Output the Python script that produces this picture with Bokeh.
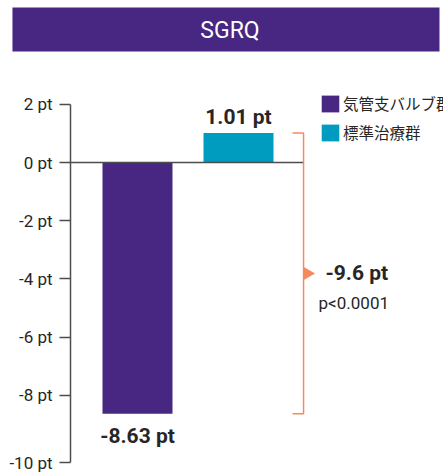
import math
from bokeh.plotting import figure
from bokeh.models import (Range1d, FixedTicker, ColumnDataSource, Legend, LegendItem)
from bokeh.core.properties import value
from bokeh.embed import file_html
from bokeh.resources import INLINE

# ---- data ----
title_text = "SGRQ"
groups = ["気管支バルブ群", "標準治療群"]
changes = [-8.63, 1.01]
bar_labels = ["-8.63 pt", "1.01 pt"]
diff_label = "-9.6 pt"
p_label = "p<0.0001"
tick_values = [2, 0, -2, -4, -6, -8, -10]
tick_labels = ["2 pt", "0 pt", "-2 pt", "-4 pt", "-6 pt", "-8 pt", "-10 pt"]

# ---- styles / layout ----
PURPLE = "#472782"
TEAL = "#009cc0"
ORANGE = "#f58a5e"
AXIS = "#4d4d4d"
TEXT = "#262626"
FONT = "Roboto"
JP_FONT = "Noto Sans CJK JP"
bar_colors = [PURPLE, TEAL]
BAR_W = 0.693
AXIS_X = -0.663
BRACKET_X = 1.644
BRACKET_STUB = 0.109
ARROW_DX = 0.04
AXIS_BREAK = -0.31  # the bottom tick sits slightly below its value in the source

xs = list(range(len(groups)))

p = figure(width=443, height=476, output_backend="svg", toolbar_location=None,
           x_range=Range1d(-1.3564, 3.0297), y_range=Range1d(-10.790, 5.567),
           x_axis_location=None, min_border=0, outline_line_color=None)
p.grid.visible = False
p.background_fill_color = "white"
p.border_fill_color = "white"

# header band
p.quad(left=[-1.238], right=[2.990], top=[5.33], bottom=[3.814],
       fill_color=PURPLE, line_color=None)
p.text(x=[0.916], y=[4.55], text=[title_text], text_font=value(FONT),
       text_font_size="23px", text_color="white", text_align="center",
       text_baseline="middle")

# y axis
tick_pos = [t if t != tick_values[-1] else t + AXIS_BREAK for t in tick_values]
ax = p.yaxis[0]
ax.fixed_location = AXIS_X
ax.bounds = (min(tick_pos), max(tick_pos))
ax.ticker = FixedTicker(ticks=tick_pos)
ax.major_label_overrides = {t: l for t, l in zip(tick_pos, tick_labels)}
ax.axis_line_color = AXIS
ax.axis_line_width = 1.5
ax.major_tick_line_color = AXIS
ax.major_tick_line_width = 1.5
ax.major_tick_out = 11
ax.major_tick_in = 0
ax.minor_tick_line_color = None
ax.major_label_text_font = FONT
ax.major_label_text_font_size = "17px"
ax.major_label_text_color = TEXT
ax.major_label_standoff = 7

# bars
src = ColumnDataSource(dict(x=xs, top=changes, color=bar_colors, group=groups))
bars = p.vbar(x="x", top="top", bottom=0, width=BAR_W, fill_color="color",
              line_color=None, source=src)

# zero line
p.segment(x0=[AXIS_X], y0=[0], x1=[BRACKET_X], y1=[0], line_color=AXIS, line_width=1.5)

# bar value labels
pos_idx = [i for i, v in enumerate(changes) if v >= 0]
neg_idx = [i for i, v in enumerate(changes) if v < 0]
p.text(x=[xs[i] for i in pos_idx], y=[changes[i] for i in pos_idx],
       text=[bar_labels[i] for i in pos_idx], text_font=value(FONT),
       text_font_style="bold", text_font_size="21px", text_color=TEXT,
       text_align="center", text_baseline="middle", y_offset=-16)
p.text(x=[xs[i] for i in neg_idx], y=[changes[i] for i in neg_idx],
       text=[bar_labels[i] for i in neg_idx], text_font=value(FONT),
       text_font_style="bold", text_font_size="21px", text_color=TEXT,
       text_align="center", text_baseline="middle", y_offset=22)

# bracket
hi, lo = max(changes), min(changes)
mid = (hi + lo) / 2
p.line(x=[BRACKET_X - BRACKET_STUB, BRACKET_X, BRACKET_X, BRACKET_X - BRACKET_STUB],
       y=[hi, hi, lo, lo], line_color=ORANGE, line_width=1.5)
p.scatter(x=[BRACKET_X + ARROW_DX], y=[mid], marker="triangle", size=13, angle=-math.pi / 2,
          fill_color=ORANGE, line_color=None)
p.text(x=[BRACKET_X], y=[mid], text=[diff_label], text_font=value(FONT),
       text_font_style="bold", text_font_size="21px", text_color=TEXT,
       text_align="left", text_baseline="middle", x_offset=22)
p.text(x=[BRACKET_X], y=[mid], text=[p_label], text_font=value(FONT),
       text_font_size="17px", text_color=TEXT,
       text_align="left", text_baseline="middle", x_offset=15, y_offset=30)

# legend
legend = Legend(items=[LegendItem(label=groups[i], renderers=[bars], index=i) for i in range(len(groups))],
                location=(319, 333), orientation="vertical",
                glyph_width=22, glyph_height=21, label_height=21, spacing=7,
                label_standoff=2, padding=0, margin=0,
                label_text_font=JP_FONT, label_text_font_size="15.5px",
                label_text_color=TEXT, background_fill_alpha=0,
                border_line_color=None)
p.add_layout(legend, "center")

open("out.html", "w").write(file_html(p, INLINE))
